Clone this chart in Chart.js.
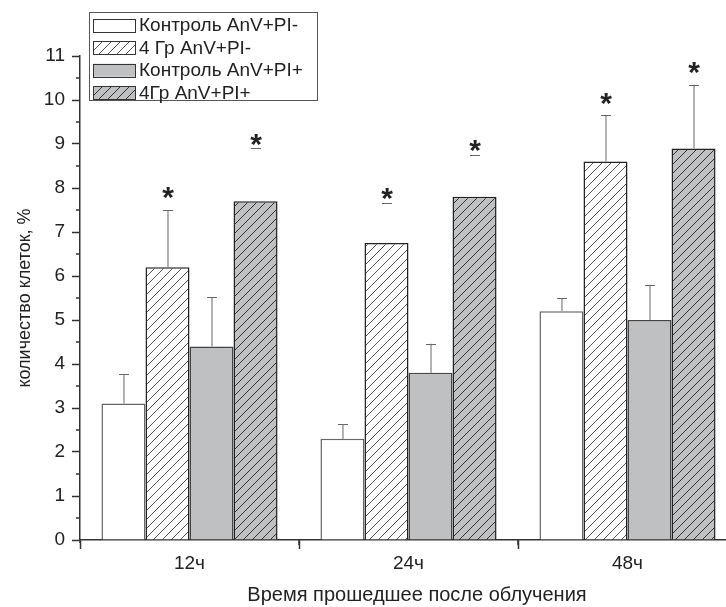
<!DOCTYPE html>
<html>
<head>
<meta charset="utf-8">
<script src="https://cdn.jsdelivr.net/npm/chart.js@4/dist/chart.umd.min.js"></script>
<style>
  html, body { margin: 0; padding: 0; background: #fff; overflow: hidden; }
  #wrap { position: absolute; left: 0; top: 0; width: 745px; height: 607px; }
</style>
</head>
<body>
<div id="wrap"><canvas id="chart"></canvas></div>
<script>
// данные
const TIMES = ["12ч", "24ч", "48ч"];
const SERIES_LABELS = ["Контроль AnV+PI-", "4 Гр AnV+PI-", "Контроль AnV+PI+", "4Гр AnV+PI+"];

const CTRL_MINUS = [3.1, 2.3, 5.2];
const GY4_MINUS  = [6.2, 6.75, 8.6];
const CTRL_PLUS  = [4.4, 3.8, 5.0];
const GY4_PLUS   = [7.7, 7.8, 8.9];

const ERR_CTRL_MINUS = [0.67, 0.33, 0.3];
const ERR_GY4_MINUS  = [1.3, 0.91, 1.05];
const ERR_CTRL_PLUS  = [1.12, 0.66, 0.8];
const ERR_GY4_PLUS   = [1.2, 0.95, 1.45];

// у части планок на исходнике виден только верхний "усик" (черта под звёздочкой)
const STEM_CTRL_MINUS = [true, true, true];
const STEM_GY4_MINUS  = [true, false, true];
const STEM_CTRL_PLUS  = [true, true, true];
const STEM_GY4_PLUS   = [false, false, true];

// звёздочки — достоверные отличия
const STAR_CTRL_MINUS = [false, false, false];
const STAR_GY4_MINUS  = [true, true, true];
const STAR_CTRL_PLUS  = [false, false, false];
const STAR_GY4_PLUS   = [true, true, true];

const Y_MIN = 0, Y_MAX = 11, Y_STEP = 1;

const FONT = "'Liberation Sans', Arial, sans-serif";
const INK = "#222";
const GRAY_FILL = "#bfc0c2";

function hatch(bg, line) {
  const s = 9;
  const c = document.createElement("canvas");
  c.width = s; c.height = s;
  const g = c.getContext("2d");
  g.fillStyle = bg;
  g.fillRect(0, 0, s, s);
  g.strokeStyle = line;
  g.lineWidth = 1;
  g.beginPath();
  g.moveTo(0, s); g.lineTo(s, 0);
  g.moveTo(-1, 1); g.lineTo(1, -1);
  g.moveTo(s - 1, s + 1); g.lineTo(s + 1, s - 1);
  g.stroke();
  return g.createPattern(c, "repeat");
}

const FILLS = [
  "#ffffff",
  hatch("#ffffff", "#555"),
  GRAY_FILL,
  hatch(GRAY_FILL, "#333"),
];
const BORDERS = ["#666", INK, "#444", INK];
const VALUES = [CTRL_MINUS, GY4_MINUS, CTRL_PLUS, GY4_PLUS];
const ERRORS = [ERR_CTRL_MINUS, ERR_GY4_MINUS, ERR_CTRL_PLUS, ERR_GY4_PLUS];
const STEMS = [STEM_CTRL_MINUS, STEM_GY4_MINUS, STEM_CTRL_PLUS, STEM_GY4_PLUS];
const STARS = [STAR_CTRL_MINUS, STAR_GY4_MINUS, STAR_CTRL_PLUS, STAR_GY4_PLUS];

// планки погрешностей + звёздочки
const errorBars = {
  id: "errorBars",
  afterDatasetsDraw(chart) {
    const { ctx, scales: { y } } = chart;
    ctx.save();
    chart.data.datasets.forEach((ds, i) => {
      const meta = chart.getDatasetMeta(i);
      meta.data.forEach((bar, j) => {
        const top = y.getPixelForValue(ds.data[j] + ERRORS[i][j]);
        ctx.strokeStyle = "#666";
        ctx.lineWidth = 1;
        ctx.beginPath();
        if (STEMS[i][j]) {
          ctx.moveTo(bar.x + 0.5, bar.y);
          ctx.lineTo(bar.x + 0.5, top);
        }
        ctx.moveTo(bar.x - 4.5, Math.round(top) + 0.5);
        ctx.lineTo(bar.x + 5.5, Math.round(top) + 0.5);
        ctx.stroke();
        if (STARS[i][j]) {
          ctx.fillStyle = INK;
          ctx.font = "bold 30px " + FONT;
          ctx.textAlign = "center";
          ctx.textBaseline = "middle";
          const off = STEMS[i][j] ? 11 : 3;
          ctx.fillText("*", bar.x + 0.5, top - off);
        }
      });
    });
    ctx.restore();
  },
};

// мелкие засечки, подпись оси X и легенда в рамке
const extras = {
  id: "extras",
  afterDraw(chart) {
    const { ctx, chartArea: a, scales: { x, y } } = chart;
    ctx.save();
    ctx.strokeStyle = "#333";
    ctx.lineWidth = 1.5;
    ctx.beginPath();
    for (let v = Y_MIN + Y_STEP / 2; v < Y_MAX; v += Y_STEP) {
      const py = y.getPixelForValue(v);
      ctx.moveTo(a.left - 4, py);
      ctx.lineTo(a.left, py);
    }
    for (let i = 0; i < TIMES.length; i++) {
      const px = (x.getPixelForValue(i) + x.getPixelForValue(i + 1)) / 2;
      ctx.moveTo(px, a.bottom);
      ctx.lineTo(px, a.bottom + 5);
    }
    ctx.moveTo(a.left, a.bottom);
    ctx.lineTo(a.left, a.bottom + 3);
    ctx.stroke();

    ctx.fillStyle = INK;
    ctx.font = "20px " + FONT;
    ctx.textAlign = "center";
    ctx.textBaseline = "middle";
    ctx.fillText("Время прошедшее после облучения", 417, 595);

    // легенда
    ctx.fillStyle = "#fff";
    ctx.fillRect(89, 12, 228, 88);
    ctx.strokeStyle = "#555";
    ctx.lineWidth = 1;
    ctx.strokeRect(89.5, 12.5, 228, 88);
    ctx.font = "19px " + FONT;
    ctx.textAlign = "left";
    SERIES_LABELS.forEach((lab, i) => {
      const cy = 25 + i * 22.6;
      ctx.fillStyle = FILLS[i];
      ctx.fillRect(93, cy - 6.5, 42, 13);
      ctx.strokeStyle = "#333";
      ctx.strokeRect(93.5, Math.round(cy - 6.5) + 0.5, 42, 13);
      ctx.fillStyle = INK;
      ctx.fillText(lab, 139, cy + 1);
    });
    ctx.restore();
  },
};

new Chart(document.getElementById("chart"), {
  type: "bar",
  data: {
    labels: TIMES,
    datasets: VALUES.map((vals, i) => ({
      label: SERIES_LABELS[i],
      data: vals,
      backgroundColor: FILLS[i],
      borderColor: BORDERS[i],
      borderWidth: 1.5,
      categoryPercentage: 0.804,
      barPercentage: 1,
    })),
  },
  options: {
    responsive: true,
    maintainAspectRatio: false,
    animation: false,
    devicePixelRatio: 1,
    layout: { padding: { top: 56, right: 8, left: 0, bottom: 0 } },
    plugins: { legend: { display: false }, tooltip: { enabled: false } },
    scales: {
      x: {
        afterFit: (s) => { s.height = 67; },
        grid: { display: true, drawOnChartArea: false, tickLength: 9, tickColor: "#333", tickWidth: 1.5 },
        border: { color: "#333", width: 1.5 },
        ticks: { color: INK, font: { family: FONT, size: 19 }, padding: 3 },
      },
      y: {
        min: Y_MIN,
        max: Y_MAX,
        afterFit: (s) => { s.width = 80; },
        grid: { display: true, drawOnChartArea: false, tickLength: 8, tickColor: "#333", tickWidth: 1.5 },
        border: { color: "#333", width: 1.5 },
        ticks: { stepSize: Y_STEP, color: INK, font: { family: FONT, size: 19 }, padding: 7 },
        title: {
          display: true,
          text: "количество клеток, %",
          color: INK,
          font: { family: FONT, size: 18 },
          padding: { top: 14, bottom: 0 },
        },
      },
    },
  },
  plugins: [errorBars, extras],
});
</script>
</body>
</html>
